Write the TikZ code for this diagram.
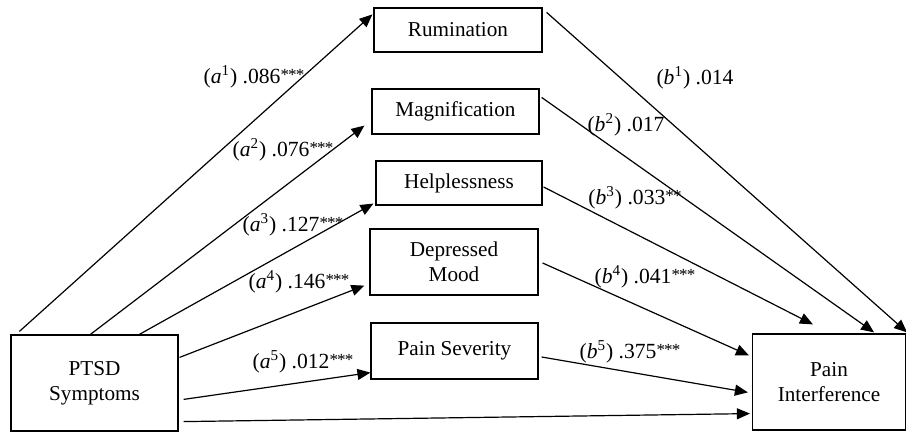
\documentclass[tikz,border=0pt]{standalone}
\usepackage{fontspec}
\setmainfont{Liberation Serif}
\usetikzlibrary{arrows.meta,calc}
\newcommand{\sthree}{\raisebox{1.6pt}{\fontsize{8.5}{8.5}\selectfont *\kern-0.4pt*\kern-0.4pt*}}
\newcommand{\stwo}{\raisebox{1.6pt}{\fontsize{8.5}{8.5}\selectfont *\kern-0.4pt*}}
\begin{document}
\begin{tikzpicture}[x=0.5pt,y=-0.5pt,
  box/.style={draw,line width=0.6pt,inner sep=0pt,align=center,font=\fontsize{10.6}{12.5}\selectfont},
  arr/.style={line width=0.6pt,-{Triangle[length=6.5pt,width=5.5pt]}},
  lab/.style={inner sep=0pt,font=\fontsize{10.8}{12}\selectfont}]
\useasboundingbox (0,0) rectangle (906,432);
\node[box,minimum width=83.5pt,minimum height=48pt] (ptsd) at (94.5,383) {PTSD\\Symptoms};
\node[box,minimum width=76.5pt,minimum height=48pt] (pi) at (829,382) {Pain\\Interference};
\node[box,minimum width=84pt,minimum height=22pt] (rum) at (458,30) {Rumination};
\node[box,minimum width=83.5pt,minimum height=22.5pt] (mag) at (455.5,111.5) {Magnification};
\node[box,minimum width=83pt,minimum height=22pt] (help) at (459,183) {Helplessness};
\node[box,minimum width=84pt,minimum height=33pt] (dep) at (454,262) {Depressed\\Mood};
\node[box,minimum width=83.5pt,minimum height=28pt] (sev) at (454.5,351) {Pain Severity};
% a paths
\draw[arr] ($(ptsd.north west)+(9,-3)$) -- ($(rum.north west)+(-1,7)$);
\draw[arr] ($(ptsd.north west)+(80,0)$) -- ($(mag.south west)+(-7,-9)$);
\draw[arr] ($(ptsd.north west)+(129,0)$) -- ($(help.south west)+(-2,-2)$);
\draw[arr] ($(ptsd.north east)+(1,23)$) -- ($(dep.south west)+(-5,-10)$);
\draw[arr] ($(ptsd.north east)+(5,65)$) -- ($(sev.south west)+(0,-7)$);
\draw[arr] ($(ptsd.south east)+(5,-10)$) -- ($(pi.south west)+(-2,-17)$);
% b paths
\draw[arr] ($(rum.north east)+(4,5)$) -- ($(pi.north east)+(1,-1)$);
\draw[arr] ($(mag.north east)+(2,9)$) -- ($(pi.north east)+(-32,-1)$);
\draw[arr] ($(help.east)+(1,4)$) -- ($(pi.north west)+(61,-9)$);
\draw[arr] ($(dep.east)+(4,1)$) -- ($(pi.north west)+(-3,22)$);
\draw[arr] ($(sev.east)+(3,6)$) -- ($(pi.north west)+(-4,59)$);
% labels
\node[lab] (la1) at (254,77) {(\textit{a}\textsuperscript{1}) .086\sthree};
\node[lab] (la2) at (283,150) {(\textit{a}\textsuperscript{2}) .076\sthree};
\node[lab] (la3) at (293,225) {(\textit{a}\textsuperscript{3}) .127\sthree};
\node[lab] (la4) at (299,282) {(\textit{a}\textsuperscript{4}) .146\sthree};
\node[lab] (la5) at (303,362) {(\textit{a}\textsuperscript{5}) .012\sthree};
\node[lab] (lb1) at (695,78) {(\textit{b}\textsuperscript{1}) .014};
\node[lab] (lb2) at (626,125) {(\textit{b}\textsuperscript{2}) .017};
\node[lab] (lb3) at (635,198) {(\textit{b}\textsuperscript{3}) .033\stwo};
\node[lab] (lb4) at (645,277) {(\textit{b}\textsuperscript{4}) .041\sthree};
\node[lab] (lb5) at (630,352) {(\textit{b}\textsuperscript{5}) .375\sthree};
\end{tikzpicture}
\end{document}
